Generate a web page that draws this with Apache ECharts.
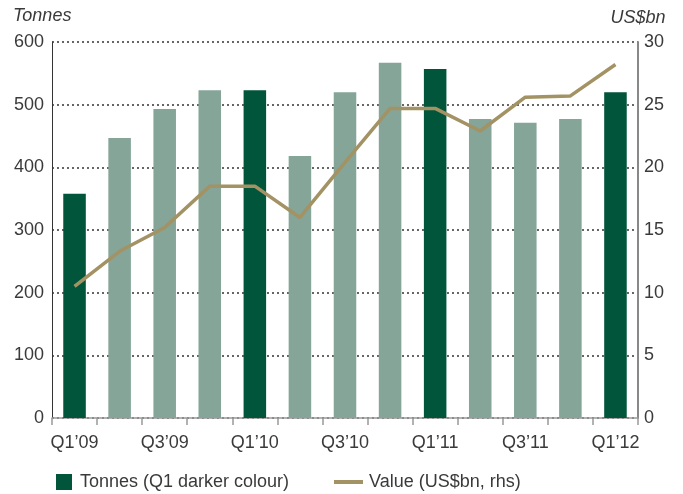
<!DOCTYPE html>
<html>
<head>
<meta charset="utf-8">
<script src="https://cdn.jsdelivr.net/npm/echarts@6/dist/echarts.min.js"></script>
<style>
  html, body { margin: 0; padding: 0; background: #fff; }
  #chart { width: 683px; height: 494px; }
</style>
</head>
<body>
<div id="chart"></div>
<script>
  // quarters and values
  var categories = ['Q1’09', 'Q2’09', 'Q3’09', 'Q4’09', 'Q1’10', 'Q2’10', 'Q3’10',
                    'Q4’10', 'Q1’11', 'Q2’11', 'Q3’11', 'Q4’11', 'Q1’12'];
  var tonnes = [358, 447, 493, 523, 523, 418, 520, 567, 557, 477, 471, 477, 520];
  var valueBn = [10.5, 13.3, 15.2, 18.5, 18.5, 16.0, 20.4, 24.7, 24.7, 22.9, 25.6, 25.7, 28.2];

  var DARK = '#00553a';
  var LIGHT = '#84a598';
  var GOLD = '#a39263';
  var TEXT = '#3a3a3a';

  var chart = echarts.init(document.getElementById('chart'));

  // Q1 bars get the darker colour
  var barData = tonnes.map(function (v, i) {
    return { value: v, itemStyle: { color: categories[i].indexOf('Q1') === 0 ? DARK : LIGHT } };
  });

  chart.setOption({
    animation: false,
    textStyle: { fontFamily: 'Liberation Sans', color: TEXT },
    grid: { left: 52, right: 45, top: 42, bottom: 76 },
    graphic: [
      { type: 'text', left: 13, top: 7,
        style: { text: 'Tonnes', font: 'italic 18px "Liberation Sans"', fill: TEXT } }
    ],
    legend: [
      {
        data: [{ name: 'Tonnes (Q1 darker colour)', icon: 'rect' }],
        left: 51, top: 468,
        itemWidth: 16, itemHeight: 16, itemGap: 10,
        textStyle: { fontSize: 18, color: TEXT, padding: [0, 0, 0, 3] }
      },
      {
        data: [{ name: 'Value (US$bn, rhs)', icon: 'rect' }],
        left: 329, top: 468,
        itemWidth: 29, itemHeight: 4,
        textStyle: { fontSize: 18, color: TEXT, padding: [0, 0, 0, 1] }
      }
    ],
    xAxis: {
      type: 'category',
      data: categories,
      axisLine: { lineStyle: { color: '#999', width: 1.5 } },
      axisTick: { show: true, interval: 0, length: 7, lineStyle: { color: '#999', width: 1.5 } },
      axisLabel: { interval: 1, fontSize: 18, color: TEXT, margin: 16 }
    },
    yAxis: [
      {
        type: 'value', min: 0, max: 600, interval: 100,
        axisLine: { show: true, lineStyle: { color: '#333', width: 1 } },
        axisTick: { show: false },
        axisLabel: { fontSize: 18, color: TEXT, margin: 8 },
        splitLine: { lineStyle: { color: '#333', type: [2, 3], width: 1.5 } }
      },
      {
        type: 'value', min: 0, max: 30, interval: 5,
        name: 'US$bn', nameLocation: 'end', nameGap: 15,
        nameTextStyle: { fontSize: 18, fontStyle: 'italic', color: TEXT, align: 'center' },
        axisLine: { show: true, lineStyle: { color: '#888', width: 2 } },
        axisTick: { show: false },
        axisLabel: { fontSize: 18, color: TEXT, margin: 6 },
        splitLine: { show: false }
      }
    ],
    series: [
      {
        name: 'Tonnes (Q1 darker colour)',
        type: 'bar',
        barWidth: '50%',
        itemStyle: { color: DARK },
        data: barData
      },
      {
        name: 'Value (US$bn, rhs)',
        type: 'line',
        yAxisIndex: 1,
        symbol: 'none',
        lineStyle: { color: GOLD, width: 3.5 },
        itemStyle: { color: GOLD },
        data: valueBn
      }
    ]
  });
</script>
</body>
</html>
